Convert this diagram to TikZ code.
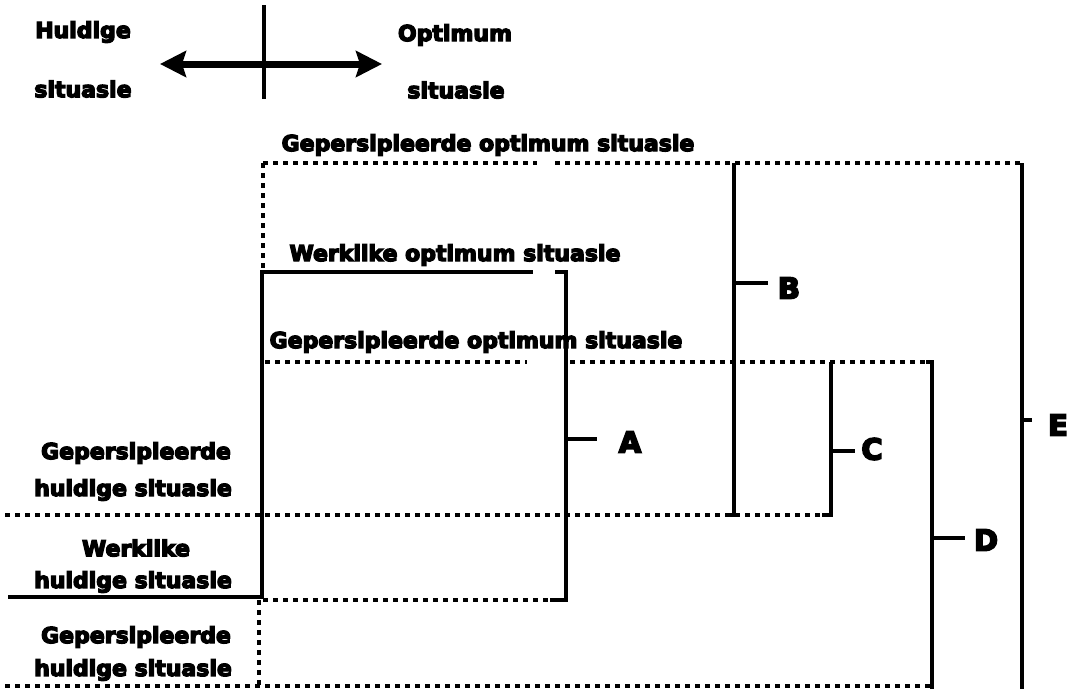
\documentclass[tikz,border=0pt]{standalone}
\usepackage{fontspec}
\setmainfont{DejaVu Sans}
\newfontfamily\heavyfont{DejaVu Sans}[BoldFeatures={FakeBold=6}]
\usetikzlibrary{arrows.meta}
\begin{document}
\begin{tikzpicture}[x=1pt,y=-1pt,
  lbl/.style={font=\heavyfont\fontsize{22}{26}\selectfont\bfseries, inner sep=0pt},
  let/.style={font=\heavyfont\fontsize{29}{30}\selectfont\bfseries, inner sep=0pt},
  sline/.style={line width=4pt, line cap=butt, line join=miter},
  dline/.style={line width=3.5pt, dash pattern=on 5pt off 5pt}]
\useasboundingbox (0,0) rectangle (1068,689);

% top legend
\node[lbl] (h1) at (83,32) {Huidige};
\node[lbl] (h2) at (83,89) {situasie};
\node[lbl] (o1) at (455,35) {Optimum};
\node[lbl] (o2) at (456,90) {situasie};
\coordinate (al) at (160,64);
\coordinate (ar) at (382,64);
\coordinate (vt) at (264,5);
\coordinate (vb) at (264,99);
\draw[line width=7pt, {Stealth[length=26pt,width=26pt,inset=4pt]}-{Stealth[length=26pt,width=26pt,inset=4pt]}] (al) -- (ar);
\draw[line width=4pt] (vt) -- (vb);

% labels
\node[lbl] (gopt1) at (488,145) {Gepersipieerde optimum situasie};
\node[lbl] (wopt) at (455,255) {Werklike optimum situasie};
\node[lbl] (gopt2) at (476,342) {Gepersipieerde optimum situasie};
\node[lbl] (gh1a) at (136,453) {Gepersipieerde};
\node[lbl] (gh1b) at (133,490) {huidige situasie};
\node[lbl] (wh1) at (136,548) {Werklike};
\node[lbl] (wh2) at (133,582) {huidige situasie};
\node[lbl] (gh2a) at (136,637) {Gepersipieerde};
\node[lbl] (gh2b) at (133,670) {huidige situasie};

% dashed lines
\draw[dline] (263,163) -- (537,163);
\draw[dline] (555,163) -- (1022,163);
\draw[dline] (263,163) -- (263,270);
\draw[dline] (265,362) -- (527,362);
\draw[dline] (570,362) -- (932,362);
\draw[dline] (5,515) -- (824,515);
\draw[dline] (263,600) -- (548,600);
\draw[dline] (259,600) -- (259,686);
\draw[dline] (5,686) -- (932,686);

% solid box (werklike)
\draw[sline] (8,597) -- (262,597) -- (262,272) -- (533,272);
% bracket A
\coordinate (aT) at (555,272);
\coordinate (aB) at (550,600);
\draw[sline] (aT) -- (566,272) -- (566,600) -- (aB);
\draw[sline] (566,439) -- (597,439);
\node[let] (A) at (630,442) {A};
% bracket B
\draw[sline] (734,163) -- (734,515) -- (727,515);
\draw[sline] (734,283) -- (768,283);
\node[let] (B) at (789,288) {B};
% bracket C
\draw[sline] (831,362) -- (831,515) -- (822,515);
\draw[sline] (831,451) -- (855,451);
\node[let] (C) at (872,449) {C};
% bracket D
\draw[sline] (926,362) -- (932,362) -- (932,689);
\draw[sline] (932,538) -- (965,538);
\node[let] (D) at (986,540) {D};
% bracket E
\draw[sline] (1022,163) -- (1022,689);
\draw[sline] (1022,420) -- (1032,420);
\node[let] (E) at (1058,425) {E};
\end{tikzpicture}
\end{document}
